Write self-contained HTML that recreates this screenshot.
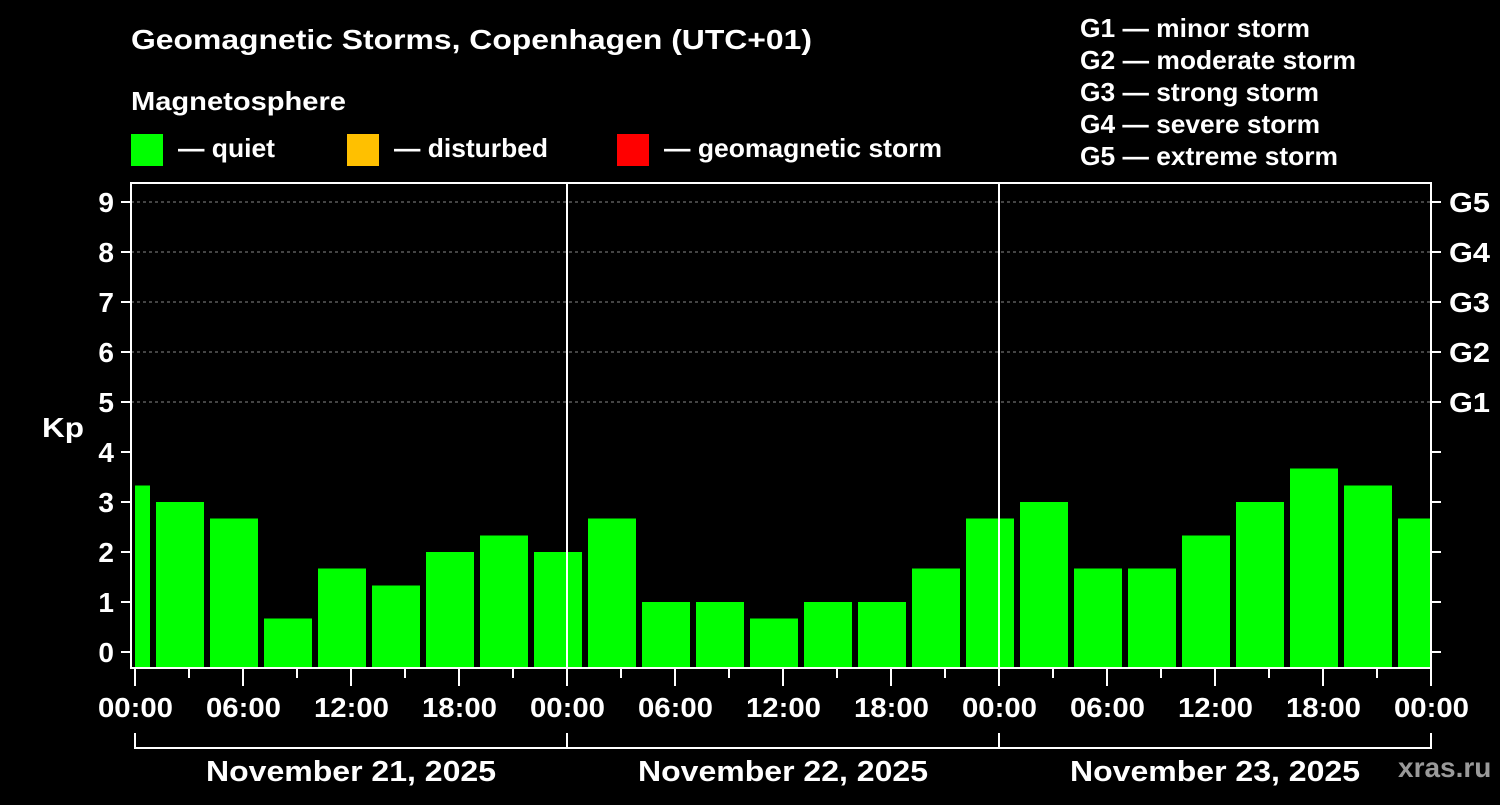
<!DOCTYPE html>
<html><head><meta charset="utf-8"><style>
html,body{margin:0;padding:0;background:#000;}
svg text{font-family:"Liberation Sans",sans-serif;font-weight:bold;fill:#fff;}
</style></head><body>
<svg id="c" width="1500" height="800">
<rect width="1500" height="800" fill="#000"/>
<text x="131" y="49" font-size="28" textLength="681" lengthAdjust="spacingAndGlyphs">Geomagnetic Storms, Copenhagen (UTC+01)</text>
<text x="131" y="110" font-size="26" textLength="215" lengthAdjust="spacingAndGlyphs">Magnetosphere</text>
<rect x="131" y="134" width="32" height="32" fill="#00ff00"/>
<text x="178" y="157" font-size="26" textLength="97" lengthAdjust="spacingAndGlyphs">— quiet</text>
<rect x="347" y="134" width="32" height="32" fill="#ffc000"/>
<text x="394" y="157" font-size="26" textLength="154" lengthAdjust="spacingAndGlyphs">— disturbed</text>
<rect x="617" y="134" width="32" height="32" fill="#ff0000"/>
<text x="664" y="157" font-size="26" textLength="278" lengthAdjust="spacingAndGlyphs">— geomagnetic storm</text>
<g font-size="26" lengthAdjust="spacingAndGlyphs">
<text x="1080" y="37" textLength="230" lengthAdjust="spacingAndGlyphs">G1 — minor storm</text>
<text x="1080" y="69" textLength="276" lengthAdjust="spacingAndGlyphs">G2 — moderate storm</text>
<text x="1080" y="101" textLength="239" lengthAdjust="spacingAndGlyphs">G3 — strong storm</text>
<text x="1080" y="133" textLength="240" lengthAdjust="spacingAndGlyphs">G4 — severe storm</text>
<text x="1080" y="165" textLength="258" lengthAdjust="spacingAndGlyphs">G5 — extreme storm</text>
</g>
<text x="42" y="437" font-size="28" textLength="42" lengthAdjust="spacingAndGlyphs">Kp</text>
<text x="1398" y="777" font-size="28" style="fill:#9a9a9a">xras.ru</text>
<g id="plot"></g>
</svg>
<script>
const kpValues=[3.33,3,2.67,0.67,1.67,1.33,2,2.33,2,2.67,1,1,0.67,1,1,1.67,2.67,3,1.67,1.67,2.33,3,3.67,3.33,2.67];
const barHours=kpValues.map((v,i)=>-0.5+3*i);
const yTicks=[0,1,2,3,4,5,6,7,8,9];
const gLabels=["G1","G2","G3","G4","G5"];
const gLevels=[5,6,7,8,9];
const xTickLabels=["00:00","06:00","12:00","18:00","00:00","06:00","12:00","18:00","00:00","06:00","12:00","18:00","00:00"];
const dayLabels=["November 21, 2025","November 22, 2025","November 23, 2025"];
const L=131,R=1431,T=183,B=668,X0=135;
const xs=h=>X0+h*18, ys=k=>652-k*50;
const NS="http://www.w3.org/2000/svg";
const g=document.getElementById('plot');
function mk(t,a){const e=document.createElementNS(NS,t);for(const k in a)e.setAttribute(k,a[k]);g.appendChild(e);return e;}
const cp=document.createElementNS(NS,'clipPath');cp.setAttribute('id','clip');
const cr=document.createElementNS(NS,'rect');cr.setAttribute('x',X0);cr.setAttribute('y',T);cr.setAttribute('width',R-X0);cr.setAttribute('height',B-T);cp.appendChild(cr);g.appendChild(cp);
gLevels.forEach(k=>{const e=mk('line',{x1:L,x2:R,y1:ys(k),y2:ys(k),stroke:'#888','stroke-dasharray':'3,3','stroke-width':1});

});
kpValues.forEach((v,i)=>{const c=xs(barHours[i]);const col=v>=5?'#ff0000':(v>=4?'#ffc000':'#00ff00');
const e=mk('rect',{x:c-24,y:ys(v),width:48,height:B-ys(v),fill:col,'clip-path':'url(#clip)'});

});
[1,2].forEach(d=>{const e=mk('line',{x1:xs(24*d),x2:xs(24*d),y1:T,y2:B,stroke:'#fff','stroke-width':2});

});
const fr=mk('rect',{x:L,y:T,width:R-L,height:B-T,fill:'none',stroke:'#fff','stroke-width':2});


yTicks.forEach(k=>{mk('line',{x1:L-10,x2:L,y1:ys(k),y2:ys(k),stroke:'#fff','stroke-width':2});
mk('line',{x1:R,x2:R+10,y1:ys(k),y2:ys(k),stroke:'#fff','stroke-width':2});
const t=mk('text',{x:114,y:ys(k)+10,'font-size':28,'text-anchor':'end'});t.textContent=k;

});
gLevels.forEach((k,i)=>{const t=mk('text',{x:1449,y:ys(k)+10,'font-size':28,textLength:41,lengthAdjust:'spacingAndGlyphs'});t.textContent=gLabels[i];

});
for(let h=0;h<=72;h+=3){const major=h%6==0;mk('line',{x1:xs(h),x2:xs(h),y1:B,y2:B+(major?18:10),stroke:'#fff','stroke-width':2});}
xTickLabels.forEach((s,i)=>{const t=mk('text',{x:xs(i*6)-37,y:717,'font-size':28,textLength:75,lengthAdjust:'spacingAndGlyphs'});t.textContent=s;

});
mk('line',{x1:xs(0),x2:xs(72),y1:748,y2:748,stroke:'#fff','stroke-width':2});
[0,24,48,72].forEach(h=>mk('line',{x1:xs(h),x2:xs(h),y1:733,y2:749,stroke:'#fff','stroke-width':2}));
dayLabels.forEach((s,i)=>{const t=mk('text',{x:xs(24*i+12)-145,y:781,'font-size':29,textLength:290,lengthAdjust:'spacingAndGlyphs'});t.textContent=s;

});
</script>
</body></html>
